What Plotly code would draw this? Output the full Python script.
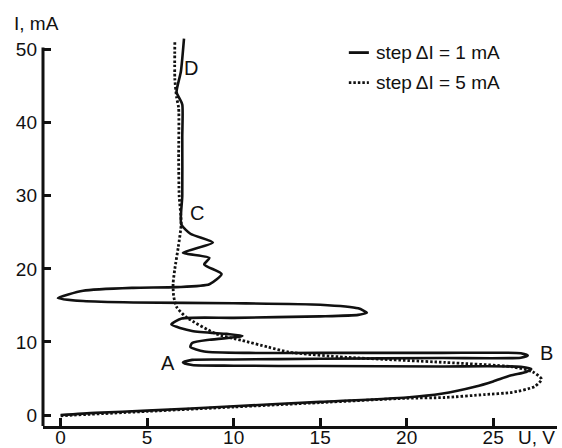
import plotly.graph_objects as go

# step dI = 1 mA (solid)
u_solid = [0.0, 2.0, 5.0, 10.0, 15.0, 20.0, 22.0, 24.0, 25.0, 26.0, 26.9, 27.2, 26.6, 22.0, 15.0, 10.0,
           7.6, 7.07, 7.6, 10.0, 15.0, 22.0, 26.6, 27.0, 26.6, 22.0, 15.0, 10.9, 8.3, 7.5, 7.6,
           8.6, 10.3, 10.5, 9.6, 7.6, 6.4, 7.0, 10.0, 15.0, 17.2, 17.7, 17.2, 15.0, 10.0, 4.2, 1.3,
           -0.16, 1.3, 4.2, 6.7, 8.6, 9.3, 8.3, 8.6, 7.07, 8.8, 7.5, 6.97, 7.03, 7.03, 7.03, 6.85,
           6.7, 6.95, 7.13]
i_solid = [0.0, 0.3, 0.6, 1.2, 1.8, 2.4, 2.9, 3.9, 4.6, 5.4, 5.9, 6.3, 6.6, 6.65, 6.7, 6.75,
           6.85, 7.2, 7.55, 7.6, 7.7, 7.8, 7.85, 8.15, 8.45, 8.5, 8.5, 8.5, 8.7, 9.3, 9.85,
           10.3, 10.7, 10.85, 11.1, 11.5, 12.4, 13.2, 13.3, 13.5, 13.7, 14.0, 14.6, 15.1, 15.3, 15.4, 15.6,
           16.0, 17.0, 17.4, 17.5, 17.9, 19.3, 20.6, 21.5, 22.2, 23.6, 24.8, 26.1, 30.0, 38.0, 42.5, 43.4,
           44.2, 47.0, 51.5]

# step dI = 5 mA (dotted)
u_dot = [0.0, 5.0, 10.0, 15.0, 20.0, 22.2, 24.5, 26.1, 27.4, 27.8, 27.3, 26.1, 22.2, 16.5, 13.2,
         12.0, 10.5, 9.0, 7.26, 6.7, 6.53, 6.5, 6.6, 6.8, 6.97, 6.85, 6.82, 6.82, 6.7, 6.6, 6.6]
i_dot = [-0.1, 0.5, 1.1, 1.7, 2.3, 2.4, 2.8, 3.1, 3.9, 4.9, 5.9, 6.6, 7.2, 7.9, 8.6,
         9.3, 10.2, 11.1, 13.4, 14.8, 16.3, 18.0, 20.0, 23.0, 26.2, 30.0, 35.0, 42.0, 43.5, 46.0, 51.0]

x_ticks = [0, 5, 10, 15, 20, 25]
y_ticks = [0, 10, 20, 30, 40, 50]
point_labels = ["A", "B", "C", "D"]
point_u = [6.2, 28.1, 7.9, 7.55]
point_i = [7.1, 8.5, 27.7, 47.5]
legend_texts = ["step\u2009\u0394I = 1 mA", "step\u2009\u0394I = 5 mA"]

FONT = "Liberation Sans, Arial, sans-serif"
INK = "#111111"

fig = go.Figure()
fig.add_trace(go.Scatter(x=u_solid, y=i_solid, mode="lines",
                         line=dict(color=INK, width=2.6, shape="spline", smoothing=0.6),
                         showlegend=False, hoverinfo="skip"))
fig.add_trace(go.Scatter(x=u_dot, y=i_dot, mode="lines",
                         line=dict(color=INK, width=2.8, dash="2.5px,2px", shape="spline", smoothing=0.6),
                         showlegend=False, hoverinfo="skip"))

for t, u, i in zip(point_labels, point_u, point_i):
    fig.add_annotation(x=u, y=i, text=t, showarrow=False,
                       font=dict(family=FONT, size=20, color=INK))

# y axis line (drawn as shape so curves can run above it)
fig.add_shape(type="line", xref="paper", yref="y", x0=0, x1=0, y0=-1.5, y1=50.3,
              line=dict(color=INK, width=3))

# manual legend
leg_y = [0.955, 0.878]
leg_dash = ["solid", "2.5px,2px"]
for t, yy, d in zip(legend_texts, leg_y, leg_dash):
    fig.add_shape(type="line", xref="paper", yref="paper", x0=0.595, x1=0.634, y0=yy, y1=yy,
                  line=dict(color=INK, width=2.8, dash=d))
    fig.add_annotation(xref="paper", yref="paper", x=0.643, y=yy, text=t, showarrow=False,
                       xanchor="left", yanchor="middle",
                       font=dict(family=FONT, size=19, color=INK))

fig.add_annotation(xref="paper", yref="paper", x=-0.061, y=1.0, text="I, mA", showarrow=False,
                   xanchor="left", yanchor="bottom", yshift=-1,
                   font=dict(family=FONT, size=19, color=INK))
fig.add_annotation(xref="paper", yref="paper", x=1.0, y=0, text="U, V", showarrow=False,
                   xanchor="right", yanchor="top", yshift=1,
                   font=dict(family=FONT, size=19, color=INK))

fig.update_layout(
    width=562, height=448,
    margin=dict(l=43, r=5, t=35, b=22, autoexpand=False),
    paper_bgcolor="white", plot_bgcolor="white",
    xaxis=dict(range=[-1.02, 28.69], tickvals=x_ticks, ticks="inside", ticklen=8, tickwidth=2.5,
               tickcolor=INK, showline=True, linecolor=INK, linewidth=3, showgrid=False,
               zeroline=False, ticklabelstandoff=-8, automargin=False,
               tickfont=dict(family=FONT, size=19, color=INK)),
    yaxis=dict(range=[-1.5, 52.0], tickvals=y_ticks, ticks="inside", ticklen=8, tickwidth=2.5,
               tickcolor=INK, showline=False, showgrid=False, zeroline=False,
               ticklabelstandoff=5, automargin=False,
               tickfont=dict(family=FONT, size=19, color=INK)),
)

fig.write_html("out.html", config={"displayModeBar": False},
               post_script="document.body.style.margin='0';document.body.style.overflow='hidden';")
